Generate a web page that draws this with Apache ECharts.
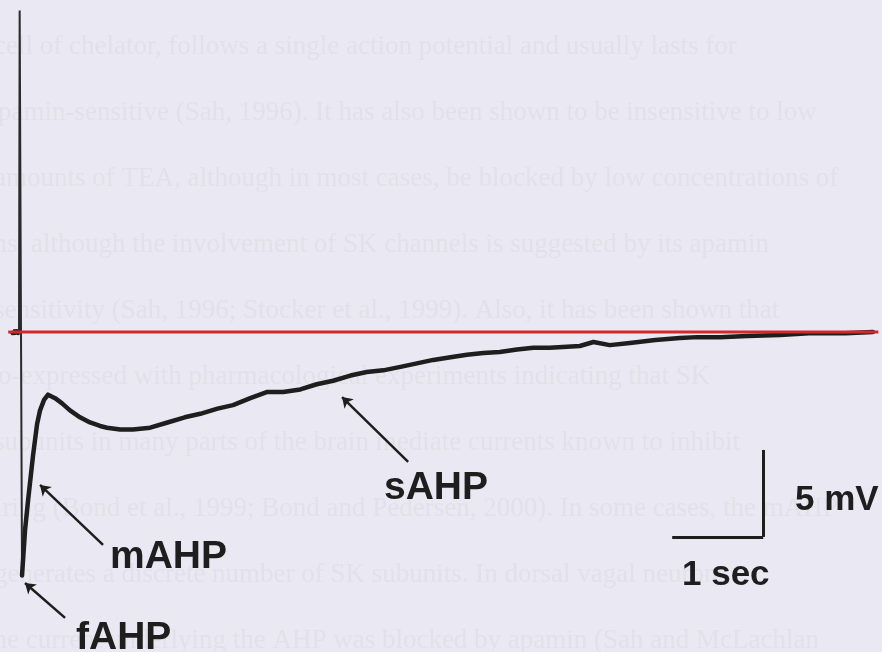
<!DOCTYPE html>
<html>
<head>
<meta charset="utf-8">
<script src="https://cdn.jsdelivr.net/npm/echarts@6/dist/echarts.min.js"></script>
<style>
  html, body { margin: 0; padding: 0; background: #e9e8f3; }
  #chart { width: 882px; height: 652px; }
</style>
</head>
<body>
<div id="chart"></div>
<script>
// Membrane potential after a single action potential: fast, medium and slow AHP.
// Time in seconds (spike at t = 0), voltage in mV relative to resting potential.

const restBefore = [[-0.09, 0.05], [-0.07, -0.1], [-0.05, 0.1], [-0.03, -0.05], [-0.011, 0]];

const spike = [[-0.011, 0], [-0.004, 18.5], [0.003, 18.5], [0.022, -14.0]];

const ahpTime = [0.022, 0.055, 0.088, 0.143, 0.187, 0.22, 0.264, 0.308, 0.385, 0.462,
  0.549, 0.659, 0.769, 0.879, 0.956, 1.10, 1.24, 1.43, 1.62, 1.81,
  1.98, 2.17, 2.34, 2.53, 2.71, 2.89, 3.08, 3.26, 3.44, 3.63,
  3.81, 3.99, 4.18, 4.36, 4.54, 4.73, 4.91, 5.09, 5.27, 5.46,
  5.64, 5.82, 6.01, 6.15, 6.30, 6.48, 6.70, 6.98, 7.25, 7.44,
  7.69, 7.99, 8.35, 8.71, 9.07, 9.37];

const ahpVoltage = [-14.0, -11.4, -9.7, -7.1, -5.3, -4.5, -3.9, -3.6, -3.8, -4.1,
  -4.5, -4.9, -5.2, -5.4, -5.5, -5.6, -5.6, -5.5, -5.2, -4.9,
  -4.7, -4.4, -4.2, -3.8, -3.45, -3.45, -3.3, -3.0, -2.8, -2.5,
  -2.3, -2.2, -2.0, -1.8, -1.6, -1.45, -1.3, -1.2, -1.15, -1.0,
  -0.9, -0.9, -0.85, -0.8, -0.57, -0.75, -0.63, -0.46, -0.34, -0.29,
  -0.29, -0.23, -0.17, -0.06, -0.06, 0];

const restingLine = [[-0.13, 0], [9.43, 0]];

// Scale bar: 1 s horizontal, 5 mV vertical, corner at (scaleCornerT, scaleCornerV)
const scaleCornerT = 8.165;
const scaleCornerV = -11.78;
const scaleSec = 1;
const scaleMv = 5;

// Pointer lines: [tail, head] in (s, mV)
const pointers = {
  sAHP: [[4.264, -7.47], [3.538, -3.74]],
  mAHP: [[0.912, -12.24], [0.22, -8.79]],
  fAHP: [[0.495, -16.44], [0.055, -14.43]]
};

const labelTexts = ['sAHP', 'mAHP', 'fAHP', '5 mV', '1 sec'];

// Faint lines of the printed page behind the figure
const pageLines = [
  'cell of chelator, follows a single action potential and usually lasts for',
  'apamin-sensitive (Sah, 1996). It has also been shown to be insensitive to low',
  'amounts of TEA, although in most cases, be blocked by low concentrations of',
  'ms, although the involvement of SK channels is suggested by its apamin',
  'sensitivity (Sah, 1996; Stocker et al., 1999). Also, it has been shown that',
  'co-expressed with pharmacological experiments indicating that SK',
  'subunits in many parts of the brain mediate currents known to inhibit',
  'firing (Bond et al., 1999; Bond and Pedersen, 2000). In some cases, the mAHP',
  'generates a discrete number of SK subunits. In dorsal vagal neurons',
  'the current underlying the AHP was blocked by apamin (Sah and McLachlan'
];

const ahp = ahpTime.map((t, i) => [t, ahpVoltage[i]]);

const chart = echarts.init(document.getElementById('chart'));

const ink = '#1e1e1e';

const pointerData = Object.keys(pointers).map(k => [
  { coord: pointers[k][0] },
  { coord: pointers[k][1] }
]);

const scaleData = [
  [{ coord: [scaleCornerT, scaleCornerV + scaleMv] }, { coord: [scaleCornerT, scaleCornerV] }],
  [{ coord: [scaleCornerT - scaleSec, scaleCornerV] }, { coord: [scaleCornerT, scaleCornerV] }]
];

const labelPos = [
  [384, 488], [110, 557], [76, 638], [795, 500], [682, 575]
];
const labelSize = [39, 39, 39, 35, 35];

const graphics = [];
pageLines.forEach((line, i) => {
  graphics.push({
    type: 'text',
    silent: true,
    z: -10,
    style: {
      x: i % 2 ? -14 : -6,
      y: 47 + i * 66,
      text: line,
      font: '27px "Liberation Serif", serif',
      fill: 'rgba(196, 192, 172, 0.16)',
      verticalAlign: 'middle'
    }
  });
});
labelTexts.forEach((txt, i) => {
  graphics.push({
    type: 'text',
    silent: true,
    z: 10,
    style: {
      x: labelPos[i][0],
      y: labelPos[i][1],
      text: txt,
      font: 'bold ' + labelSize[i] + 'px "Liberation Sans", Arial, sans-serif',
      fill: ink,
      verticalAlign: 'middle'
    }
  });
});

chart.setOption({
  animation: false,
  backgroundColor: '#e9e8f3',
  grid: { left: 0, right: 0, top: 0, bottom: 0 },
  xAxis: { type: 'value', min: -0.22, max: 9.47, show: false },
  yAxis: { type: 'value', min: -18.4, max: 19.1, show: false },
  graphic: graphics,
  series: [
    {
      name: 'rest before',
      type: 'line',
      data: restBefore,
      symbol: 'none',
      lineStyle: { color: ink, width: 5 },
      z: 3
    },
    {
      name: 'spike',
      type: 'line',
      data: spike,
      symbol: 'none',
      lineStyle: { color: '#2a2a2a', width: 2 },
      z: 3
    },
    {
      name: 'AHP',
      type: 'line',
      data: ahp,
      symbol: 'none',
      lineStyle: { color: ink, width: 4.5, join: 'round', cap: 'round' },
      z: 3
    },
    {
      name: 'resting potential',
      type: 'line',
      data: restingLine,
      symbol: 'none',
      lineStyle: { color: '#d22a2a', width: 3 },
      z: 5
    },
    {
      name: 'annotations',
      type: 'line',
      data: [],
      z: 6,
      markLine: {
        silent: true,
        animation: false,
        label: { show: false },
        symbol: ['none', 'arrow'],
        symbolSize: 10,
        lineStyle: { color: ink, width: 2.5, type: 'solid' },
        data: pointerData
      }
    },
    {
      name: 'scale bar',
      type: 'line',
      data: [],
      z: 6,
      markLine: {
        silent: true,
        animation: false,
        label: { show: false },
        symbol: ['none', 'none'],
        lineStyle: { color: ink, width: 3, type: 'solid' },
        data: scaleData
      }
    }
  ]
});
</script>
</body>
</html>
